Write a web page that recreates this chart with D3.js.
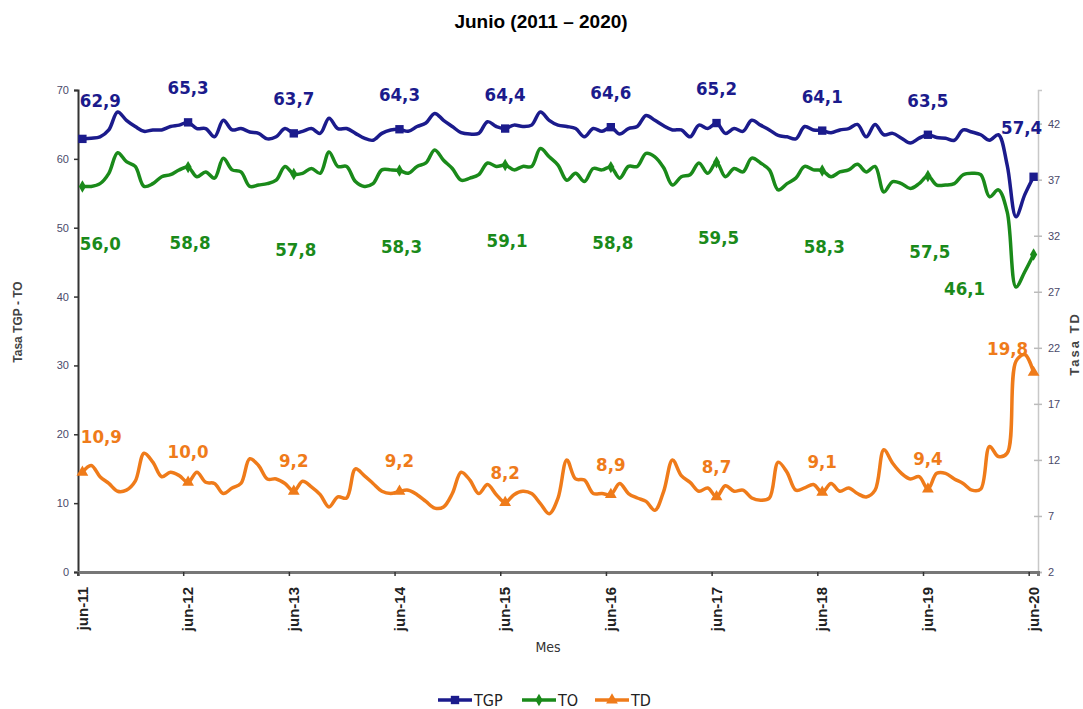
<!DOCTYPE html>
<html>
<head>
<meta charset="utf-8">
<script src="https://cdn.jsdelivr.net/npm/d3@7"></script>
<style>
  body { margin: 0; background: #fff; }
  svg { display: block; font-family: "DejaVu Sans Condensed", "Liberation Sans", Arial, sans-serif; }
  .title { font-family: "Liberation Sans", Arial, sans-serif; font-weight: bold; font-size: 19px; }
  .lbl { font-weight: bold; font-size: 18.5px; }
</style>
</head>
<body>
<svg id="graph"></svg>
<script>
// monthly series, jun-2011 .. jun-2020 (109 months)
var tgp = [62.9, 63.0, 63.2, 64.2, 66.8, 65.6, 64.7, 64.0, 64.2, 64.2, 64.7, 64.9,
  65.3, 64.4, 64.4, 63.2, 65.6, 64.2, 64.4, 63.9, 63.7, 62.9, 63.2, 64.4,
  63.7, 64.0, 64.4, 63.7, 65.9, 64.4, 64.4, 63.7, 63.0, 62.7, 63.7, 64.2,
  64.3, 64.0, 64.7, 65.2, 66.6, 65.6, 64.7, 63.8, 63.6, 63.7, 65.4, 64.7,
  64.4, 64.9, 64.7, 64.9, 66.8, 65.6, 64.9, 64.7, 64.4, 63.2, 64.4, 64.0,
  64.6, 63.6, 64.4, 64.7, 66.3, 65.6, 64.8, 64.2, 64.2, 63.2, 64.9, 64.4,
  65.2, 63.7, 64.4, 64.0, 65.6, 64.9, 64.2, 63.4, 63.2, 62.9, 64.7, 64.2,
  64.1, 63.8, 64.2, 64.4, 65.0, 63.2, 65.0, 63.5, 63.7, 63.0, 62.3, 63.0,
  63.5, 63.1, 63.0, 62.7, 64.2, 63.9, 63.5, 62.7, 63.5, 59.1, 51.6, 54.8,
  57.4];

var to = [56.0, 56.0, 56.4, 57.9, 60.9, 59.6, 58.9, 56.0, 56.4, 57.4, 57.7, 58.4,
  58.8, 57.4, 58.1, 57.2, 60.1, 58.4, 58.1, 56.0, 56.2, 56.4, 56.9, 58.9,
  57.8, 57.9, 58.6, 57.9, 61.0, 58.9, 58.9, 56.7, 56.0, 56.4, 58.4, 58.4,
  58.3, 57.9, 58.9, 59.4, 61.3, 59.8, 58.6, 56.9, 57.2, 57.7, 59.4, 58.9,
  59.1, 58.4, 58.9, 58.9, 61.5, 60.3, 59.1, 56.9, 57.9, 56.7, 58.6, 58.4,
  58.8, 57.2, 58.9, 58.9, 60.8, 60.3, 58.7, 56.2, 57.4, 57.7, 59.4, 57.9,
  59.5, 57.4, 58.6, 58.1, 60.1, 59.4, 58.4, 55.5, 56.4, 57.2, 58.9, 58.4,
  58.3, 57.4, 58.1, 58.4, 59.2, 58.1, 58.9, 55.2, 56.7, 56.4, 55.7, 56.4,
  57.5, 56.2, 56.2, 56.4, 57.7, 57.9, 57.7, 54.5, 55.5, 52.3, 41.4, 43.6,
  46.1];

var td = [10.9, 11.5, 10.5, 9.9, 9.2, 9.3, 10.1, 12.6, 11.8, 10.5, 10.9, 10.6,
  10.0, 10.9, 10.0, 9.9, 9.0, 9.5, 9.9, 12.1, 11.5, 10.3, 10.3, 9.9,
  9.2, 10.1, 9.6, 8.9, 7.8, 8.7, 8.6, 11.2, 10.6, 9.9, 9.2, 9.0,
  9.2, 9.3, 8.9, 8.3, 7.7, 7.8, 9.0, 10.9, 10.2, 9.0, 9.8, 8.9,
  8.2, 8.9, 9.2, 9.0, 8.1, 7.2, 8.6, 12.0, 10.3, 10.2, 9.0, 9.0,
  8.9, 9.9, 9.0, 8.6, 8.3, 7.5, 9.2, 12.0, 10.6, 10.0, 9.2, 9.5,
  8.7, 9.7, 9.2, 9.3, 8.6, 8.4, 8.6, 11.8, 10.9, 9.3, 9.5, 9.8,
  9.1, 9.9, 9.2, 9.5, 9.0, 8.7, 9.3, 12.9, 11.7, 10.8, 10.3, 10.5,
  9.4, 10.8, 10.8, 10.3, 9.9, 9.3, 9.4, 13.2, 12.3, 12.6, 20.8, 21.4,
  19.8];

var tickLabels = ["jun-11", "jun-12", "jun-13", "jun-14", "jun-15", "jun-16", "jun-17", "jun-18", "jun-19", "jun-20"];
var juneIdx = [0, 12, 24, 36, 48, 60, 72, 84, 96, 108];
var leftTicks = [0, 10, 20, 30, 40, 50, 60, 70];
var rightTicks = [2, 7, 12, 17, 22, 27, 32, 37, 42];

var fmt = function (v) { return v.toFixed(1).replace(".", ","); };

var width = 1083, height = 709;
var svg = d3.select("#graph").attr("width", width).attr("height", height);

var x = d3.scaleBand().domain(d3.range(tgp.length)).range([78, 1038]);
var bw = x.bandwidth();
function cx(i) { return x(i) + bw / 2; }
var yL = d3.scaleLinear().domain([0, 70]).range([572, 90]);
var yR = d3.scaleLinear().domain([2, 45]).range([572, 90]);

var cTGP = "#1b1b8c", cTO = "#1a8a1a", cTD = "#ef7b1a";

// title
svg.append("text").attr("class", "title")
  .attr("x", 541).attr("y", 28).attr("text-anchor", "middle")
  .text("Junio (2011 – 2020)");

// left axis
var gl = svg.append("g").attr("transform", "translate(78,0)")
  .call(d3.axisLeft(yL).tickValues(leftTicks).tickSize(4).tickPadding(5));
gl.select(".domain").attr("stroke", "#333").attr("stroke-width", 2);
gl.selectAll(".tick line").attr("stroke", "#333").attr("stroke-width", 1.5);
gl.selectAll("text").attr("fill", "#4a4a6a").style("font-size", "11px");

// right axis
var gr = svg.append("g").attr("transform", "translate(1038,0)")
  .call(d3.axisRight(yR).tickValues(rightTicks).tickSize(4).tickPadding(6));
gr.select(".domain").attr("stroke", "#c8c8c8").attr("stroke-width", 1.5);
gr.selectAll(".tick line").attr("stroke", "#bbb").attr("x1", -4).attr("stroke-width", 1.5);
gr.selectAll("text").attr("fill", "#4a4a6a").style("font-size", "11px");

// bottom axis
var gb = svg.append("g").attr("transform", "translate(0,572)")
  .call(d3.axisBottom(x).tickValues(juneIdx)
    .tickFormat(function (d, k) { return tickLabels[k]; }).tickSize(4).tickPadding(0));
gb.select(".domain").attr("stroke", "#777").attr("stroke-width", 3);
gb.selectAll(".tick line").attr("stroke", "#333").attr("stroke-width", 1.5)
  .attr("transform", "translate(" + (-bw / 2) + ",0)");
gb.selectAll(".tick text")
  .attr("transform", "rotate(-90)")
  .attr("text-anchor", "end")
  .attr("x", -15).attr("y", 0).attr("dy", "0.35em")
  .attr("fill", "#222").style("font-size", "15px").style("font-weight", "bold");

// axis titles
svg.append("text").attr("transform", "translate(22,322) rotate(-90)")
  .attr("text-anchor", "middle").attr("fill", "#444")
  .style("font-family", "Liberation Sans, Arial, sans-serif")
  .style("font-size", "12px").style("font-weight", "bold").text("Tasa TGP - TO");
svg.append("text").attr("transform", "translate(1079,344) rotate(-90)")
  .attr("text-anchor", "middle").attr("fill", "#444")
  .style("font-family", "Liberation Sans, Arial, sans-serif")
  .style("font-size", "13px").style("font-weight", "bold").style("letter-spacing", "2px").text("Tasa TD");
svg.append("text").attr("x", 548).attr("y", 652).attr("text-anchor", "middle")
  .attr("fill", "#333").style("font-size", "14px").text("Mes");

// series
var series = [
  { name: "TGP", data: tgp, y: yL, color: cTGP, shape: d3.symbolSquare, size: 70 },
  { name: "TO", data: to, y: yL, color: cTO, shape: d3.symbolDiamond, size: 45 },
  { name: "TD", data: td, y: yR, color: cTD, shape: d3.symbolTriangle, size: 60 }
];

series.forEach(function (s) {
  var line = d3.line()
    .x(function (d, i) { return cx(i); })
    .y(function (d) { return s.y(d); })
    .curve(d3.curveCatmullRom.alpha(0.5));
  svg.append("path").datum(s.data)
    .attr("fill", "none").attr("stroke", s.color)
    .attr("stroke-width", 3.5).attr("stroke-linejoin", "round")
    .attr("d", line);
  svg.selectAll(".m" + s.name).data(juneIdx).enter().append("path")
    .attr("transform", function (i) { return "translate(" + cx(i) + "," + s.y(s.data[i]) + ")"; })
    .attr("d", d3.symbol().type(s.shape).size(s.size))
    .attr("fill", s.color);
});

// data labels
function addLabels(s, dx, dy, first, last) {
  svg.selectAll(".l" + s.name).data(juneIdx).enter().append("text")
    .attr("class", "lbl")
    .attr("x", function (i, k) {
      var o = k === 0 ? first[0] : (k === juneIdx.length - 1 ? last[0] : dx);
      return cx(i) + o;
    })
    .attr("y", function (i, k) {
      var o = k === 0 ? first[1] : (k === juneIdx.length - 1 ? last[1] : dy);
      return s.y(s.data[i]) + o;
    })
    .attr("text-anchor", "middle").attr("dominant-baseline", "middle")
    .attr("fill", s.color)
    .text(function (i) { return fmt(s.data[i]); });
}
addLabels(series[0], 0, -33, [18, -37], [-12, -48]);
addLabels(series[1], 2, 77, [18, 59], [-69, 35]);
addLabels(series[2], 0, -29, [19, -34], [-26, -22]);

// legend
var lg = svg.append("g").attr("transform", "translate(0,700)");
var legendX = [438, 522, 595];
series.forEach(function (s, k) {
  var g = lg.append("g").attr("transform", "translate(" + legendX[k] + ",0)");
  g.append("line").attr("x1", 0).attr("x2", 34).attr("stroke", s.color).attr("stroke-width", 3.5);
  g.append("path").attr("transform", "translate(17,0)")
    .attr("d", d3.symbol().type(s.shape).size(s.size)).attr("fill", s.color);
  g.append("text").attr("x", 36).attr("dy", "0.35em").attr("fill", "#222")
    .style("font-size", "16px").text(s.name);
});
</script>
</body>
</html>
